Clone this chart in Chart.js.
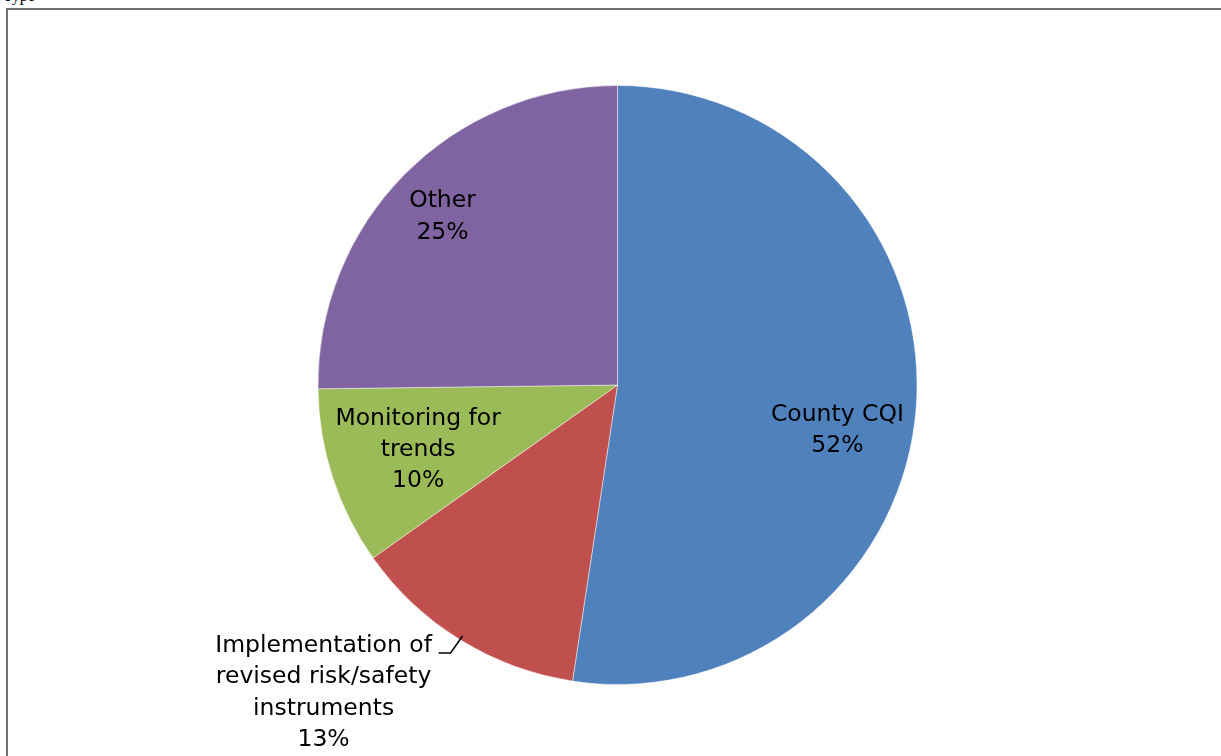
<!DOCTYPE html>
<html>
<head>
<meta charset="utf-8">
<script src="https://cdn.jsdelivr.net/npm/chart.js@4"></script>
<style>
  html, body { margin: 0; padding: 0; background: #fff; overflow: hidden; }
  body { width: 1221px; height: 756px; position: relative; }
  #frame { position: absolute; left: 6px; top: 8px; width: 1230px; height: 770px;
           border-left: 2px solid #707070; border-top: 2px solid #707070; }
  #cap { position: absolute; left: 3px; top: -13px; font: 16px "Liberation Serif", serif; color: #000; }
  canvas { position: absolute; left: 0; top: 0; }
</style>
</head>
<body>
<div id="cap">Type</div>
<div id="frame"></div>
<canvas id="c" width="1221" height="756"></canvas>
<script>
const categories = ["County CQI", "Implementation of revised risk/safety instruments", "Monitoring for trends", "Other"];
const values = [52.4, 12.8, 9.6, 25.2];
const percentLabels = ["52%", "13%", "10%", "25%"];
const labelLines = [["County CQI"], ["Implementation of", "revised risk/safety", "instruments"], ["Monitoring for", "trends"], ["Other"]];
const colors = ["#4F81BD", "#C0504D", "#9BBB59", "#8064A2"];

const FONT = '23.5px "DejaVu Sans", sans-serif';
const LINE_H = 31.3;
// inside label placement: fraction of radius and angular nudge (degrees)
const insideRadiusFrac = [0.75, null, 0.70, 0.81];
const insideAngleNudge = [7.4, 0, 0, -0.8];

const labelPlugin = {
  id: 'sliceLabels',
  afterDatasetsDraw(chart) {
    const ctx = chart.ctx;
    const meta = chart.getDatasetMeta(0);
    ctx.save();
    ctx.font = FONT;
    ctx.fillStyle = '#000';
    ctx.textAlign = 'center';
    ctx.textBaseline = 'middle';
    meta.data.forEach((arc, i) => {
      const p = arc.getProps(['x', 'y', 'startAngle', 'endAngle', 'outerRadius'], true);
      const mid = (p.startAngle + p.endAngle) / 2;
      const lines = labelLines[i].concat([percentLabels[i]]);
      if (insideRadiusFrac[i] !== null) {
        const a = mid + insideAngleNudge[i] * Math.PI / 180;
        const r = p.outerRadius * insideRadiusFrac[i];
        const cx = p.x + Math.cos(a) * r;
        const cy = p.y + Math.sin(a) * r;
        const y0 = cy - (lines.length - 1) * LINE_H / 2;
        lines.forEach((t, k) => ctx.fillText(t, cx, y0 + k * LINE_H));
      } else {
        const ex = p.x + Math.cos(mid) * p.outerRadius * 0.985;
        const ey = p.y + Math.sin(mid) * p.outerRadius * 0.985;
        const bx = ex - 12, by = ey + 17;
        const hx = bx - 12;
        ctx.strokeStyle = '#000';
        ctx.lineWidth = 1.5;
        ctx.beginPath();
        ctx.moveTo(ex, ey);
        ctx.lineTo(bx, by);
        ctx.lineTo(hx, by);
        ctx.stroke();
        const cx = hx - 115;
        const y0 = by - 7;
        lines.forEach((t, k) => ctx.fillText(t, cx, y0 + k * LINE_H));
      }
    });
    ctx.restore();
  }
};

new Chart(document.getElementById('c'), {
  type: 'pie',
  data: {
    labels: categories,
    datasets: [{
      data: values,
      backgroundColor: colors,
      borderColor: 'rgba(255,255,255,0.45)',
      borderWidth: 1
    }]
  },
  options: {
    responsive: false,
    animation: false,
    layout: { padding: { left: 317, right: 303, top: 85, bottom: 71 } },
    plugins: {
      legend: { display: false },
      tooltip: { enabled: false }
    }
  },
  plugins: [labelPlugin]
});
</script>
</body>
</html>
